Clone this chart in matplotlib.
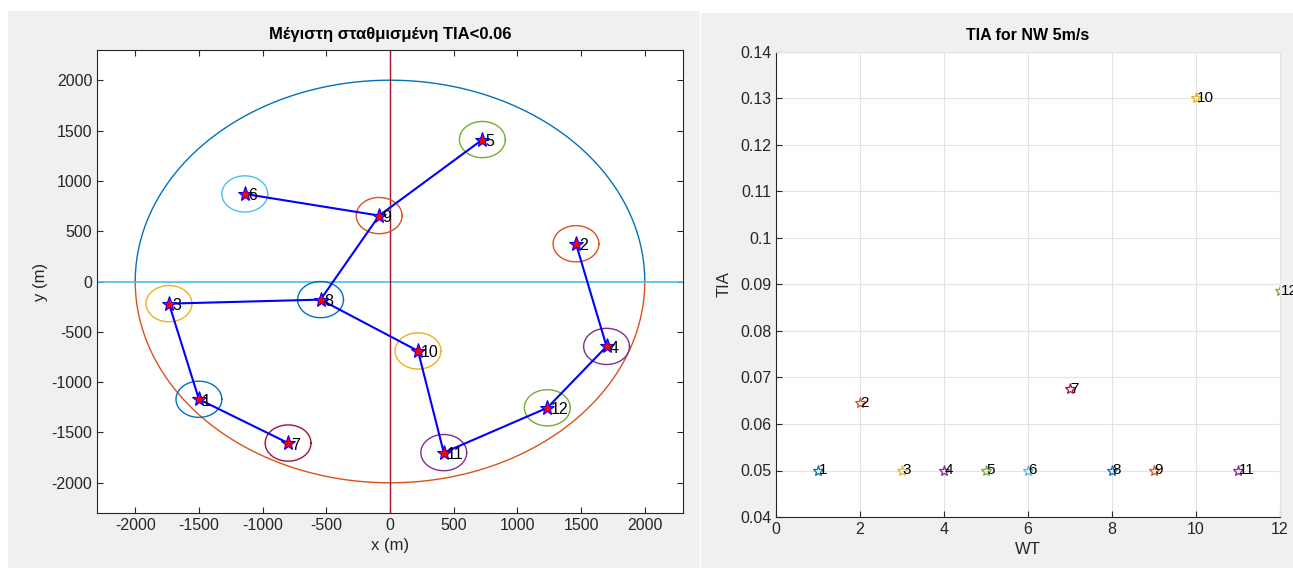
import numpy as np
import matplotlib.pyplot as plt
from matplotlib.patches import Rectangle
from matplotlib.ticker import FuncFormatter

# MATLAB default colour order
matlab_colors = ['#0072BD', '#D95319', '#EDB120', '#7E2F8E', '#77AC30', '#4DBEEE', '#A2142F']

# wind turbine layout (m)
wt_ids = list(range(1, 13))
wt_x = [-1500, 1460, -1735, 1700, 725, -1140, -800, -545, -85, 220, 422, 1235]
wt_y = [-1170, 375, -220, -645, 1410, 870, -1605, -180, 655, -690, -1700, -1255]

# cable connections between turbines
links = [(6, 9), (9, 5), (9, 8), (8, 3), (3, 1), (1, 7),
         (8, 10), (10, 11), (11, 12), (12, 4), (4, 2)]

site_radius = 2000
wt_radius = 180

# TIA per turbine, NW wind 5 m/s
tia = [0.050, 0.0646, 0.050, 0.050, 0.050, 0.050, 0.0676, 0.050, 0.050, 0.1302, 0.050, 0.0885]

txt_color = '#262626'
plt.rcParams['font.family'] = ['Liberation Sans', 'DejaVu Sans']
plt.rcParams['font.size'] = 10.5
plt.rcParams['axes.unicode_minus'] = False

fig = plt.figure(figsize=(12.93, 5.68), dpi=100)
fig.patch.set_facecolor('white')
W, H = 1293, 568
# the two grey figure windows
fig.patches.append(Rectangle((8 / W, 0), (700 - 8) / W, (H - 11) / H, transform=fig.transFigure,
                             facecolor='#F0F0F0', edgecolor='none', zorder=-10))
fig.patches.append(Rectangle((701 / W, 0), (W - 701) / W, (H - 13) / H, transform=fig.transFigure,
                             facecolor='#F0F0F0', edgecolor='none', zorder=-10))

# ---- left: layout ----
ax1 = fig.add_axes([97 / W, 1 - 513 / H, 586 / W, 463 / H])
th = np.linspace(0, np.pi, 300)
ax1.plot(site_radius * np.cos(th), site_radius * np.sin(th), color=matlab_colors[0], lw=1)
ax1.plot(site_radius * np.cos(th), -site_radius * np.sin(th), color=matlab_colors[1], lw=1)
ax1.axhline(0, color=matlab_colors[5], lw=1.2)
ax1.axvline(0, color=matlab_colors[6], lw=1)

t = np.linspace(0, 2 * np.pi, 200)
for i, (x, y) in enumerate(zip(wt_x, wt_y)):
    ax1.plot(x + wt_radius * np.cos(t), y + wt_radius * np.sin(t),
             color=matlab_colors[i % 7], lw=1)

for a, b in links:
    ax1.plot([wt_x[a - 1], wt_x[b - 1]], [wt_y[a - 1], wt_y[b - 1]], color='blue', lw=1.5)
ax1.plot(wt_x, wt_y, ls='none', marker='*', ms=11, mfc='red', mec='blue', mew=0.8)
for n, x, y in zip(wt_ids, wt_x, wt_y):
    ax1.text(x + 25, y - 20, str(n), fontsize=11.5, ha='left', va='center', color='black')

ax1.set_xlim(-2300, 2300)
ax1.set_ylim(-2300, 2300)
ax1.set_xticks(np.arange(-2000, 2001, 500))
ax1.set_yticks(np.arange(-2000, 2001, 500))
ax1.tick_params(direction='in', length=4, top=True, right=True, colors=txt_color, labelsize=11.5)
for s in ax1.spines.values():
    s.set_color(txt_color)
    s.set_linewidth(0.8)
ax1.set_title('Μέγιστη σταθμισμένη TIA<0.06', fontsize=12, fontweight='bold', pad=8)
ax1.set_xlabel('x (m)', fontsize=12, color=txt_color, labelpad=4)
ax1.set_ylabel('y (m)', fontsize=12, color=txt_color, labelpad=2)

# ---- right: TIA ----
ax2 = fig.add_axes([776 / W, 1 - 517 / H, 504 / W, 465 / H])
for i, (n, v) in enumerate(zip(wt_ids, tia)):
    ax2.plot(n, v, ls='none', marker='*', ms=8, mfc='none', mec=matlab_colors[i % 7], mew=0.9)
    ax2.text(n + 0.01, v, str(n), fontsize=11, ha='left', va='center', color='black')

ax2.set_xlim(0, 12)
ax2.set_ylim(0.04, 0.14)
ax2.set_xticks(np.arange(0, 13, 2))
ax2.set_yticks(np.arange(0.04, 0.141, 0.01))
ax2.yaxis.set_major_formatter(FuncFormatter(lambda v, p: f'{v:g}'))
ax2.grid(True, color='#E3E3E3', lw=0.8)
ax2.set_axisbelow(True)
ax2.tick_params(direction='in', length=4, colors=txt_color, labelsize=11.5)
for s in ['left', 'bottom']:
    ax2.spines[s].set_color(txt_color)
    ax2.spines[s].set_linewidth(0.8)
for s in ['top', 'right']:
    ax2.spines[s].set_color('#E3E3E3')
ax2.set_title('TIA for NW 5m/s', fontsize=11.5, fontweight='bold', pad=9)
ax2.set_xlabel('WT', fontsize=12, color=txt_color, labelpad=4)
ax2.set_ylabel('TIA', fontsize=12, color=txt_color, labelpad=6)

fig.savefig('out.png', dpi=100)
